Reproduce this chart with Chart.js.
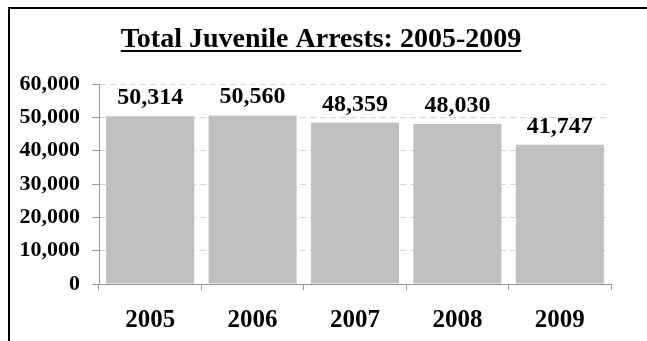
<!DOCTYPE html>
<html>
<head>
<meta charset="utf-8">
<script src="https://cdn.jsdelivr.net/npm/chart.js@4/dist/chart.umd.min.js"></script>
<style>
  html, body { margin: 0; padding: 0; background: #fff; }
  #wrap { position: relative; width: 647px; height: 341px; overflow: hidden; }
  #frame { position: absolute; left: 8px; top: 7px; width: 700px; height: 400px;
           border-left: 2.5px solid #000; border-top: 2.5px solid #000; }
  canvas { position: absolute; left: 0; top: 0; }
</style>
</head>
<body>
<div id="wrap">
  <div id="frame"></div>
  <canvas id="c" width="647" height="341"></canvas>
</div>
<script>
const titleText = 'Total Juvenile Arrests: 2005-2009';
const years = ['2005', '2006', '2007', '2008', '2009'];
const arrests = [50314, 50560, 48359, 48030, 41747];
const yTicks = [0, 10000, 20000, 30000, 40000, 50000, 60000];

const SERIF = '"Liberation Serif", "Times New Roman", serif';
const fmt = v => v.toLocaleString('en-US');

const titlePlugin = {
  id: 'ulTitle',
  afterDraw(chart) {
    const ctx = chart.ctx;
    ctx.save();
    ctx.font = 'bold 28px ' + SERIF;
    ctx.fillStyle = '#000';
    ctx.textAlign = 'center';
    ctx.textBaseline = 'alphabetic';
    const cx = 321, by = 47;
    ctx.fillText(titleText, cx, by);
    const w = ctx.measureText(titleText).width;
    ctx.fillRect(cx - w / 2, by + 3, w, 2);
    ctx.restore();
  }
};

const labelPlugin = {
  id: 'barLabels',
  afterDatasetsDraw(chart) {
    const ctx = chart.ctx;
    const meta = chart.getDatasetMeta(0);
    ctx.save();
    ctx.font = 'bold 24px ' + SERIF;
    ctx.fillStyle = '#000';
    ctx.textAlign = 'center';
    ctx.textBaseline = 'alphabetic';
    meta.data.forEach((bar, i) => {
      ctx.fillText(fmt(arrests[i]), bar.x, bar.y - 12);
    });
    ctx.restore();
  }
};

new Chart(document.getElementById('c'), {
  type: 'bar',
  data: {
    labels: years,
    datasets: [{
      data: arrests,
      backgroundColor: '#c0c0c0',
      borderWidth: 0,
      barPercentage: 0.86,
      categoryPercentage: 1.0
    }]
  },
  options: {
    responsive: false,
    animation: false,
    layout: { padding: { top: 84, right: 36, left: 0, bottom: 0 } },
    plugins: {
      legend: { display: false },
      title: { display: false },
      tooltip: { enabled: false }
    },
    scales: {
      x: {
        afterFit(scale) { scale.height = 57; },
        grid: {
          display: true,
          drawOnChartArea: false,
          drawTicks: true,
          tickLength: 6,
          tickColor: '#999',
          offset: true
        },
        border: { color: '#999', width: 1 },
        ticks: {
          color: '#000',
          padding: 16,
          font: { family: SERIF, size: 25, weight: 'bold' }
        }
      },
      y: {
        min: 0,
        max: 60000,
        afterFit(scale) { scale.width = 99; },
        afterBuildTicks(scale) { scale.ticks = yTicks.map(v => ({ value: v })); },
        grid: {
          color: '#d6d6d6',
          lineWidth: 1,
          drawTicks: true,
          tickLength: 7,
          tickColor: '#999',
          tickBorderDash: [0, 0]
        },
        border: { color: '#999', width: 1, dash: [6, 4] },
        ticks: {
          color: '#000',
          padding: 12,
          font: { family: SERIF, size: 22, weight: 'bold' },
          callback: v => fmt(v)
        }
      }
    }
  },
  plugins: [titlePlugin, labelPlugin]
});
</script>
</body>
</html>
